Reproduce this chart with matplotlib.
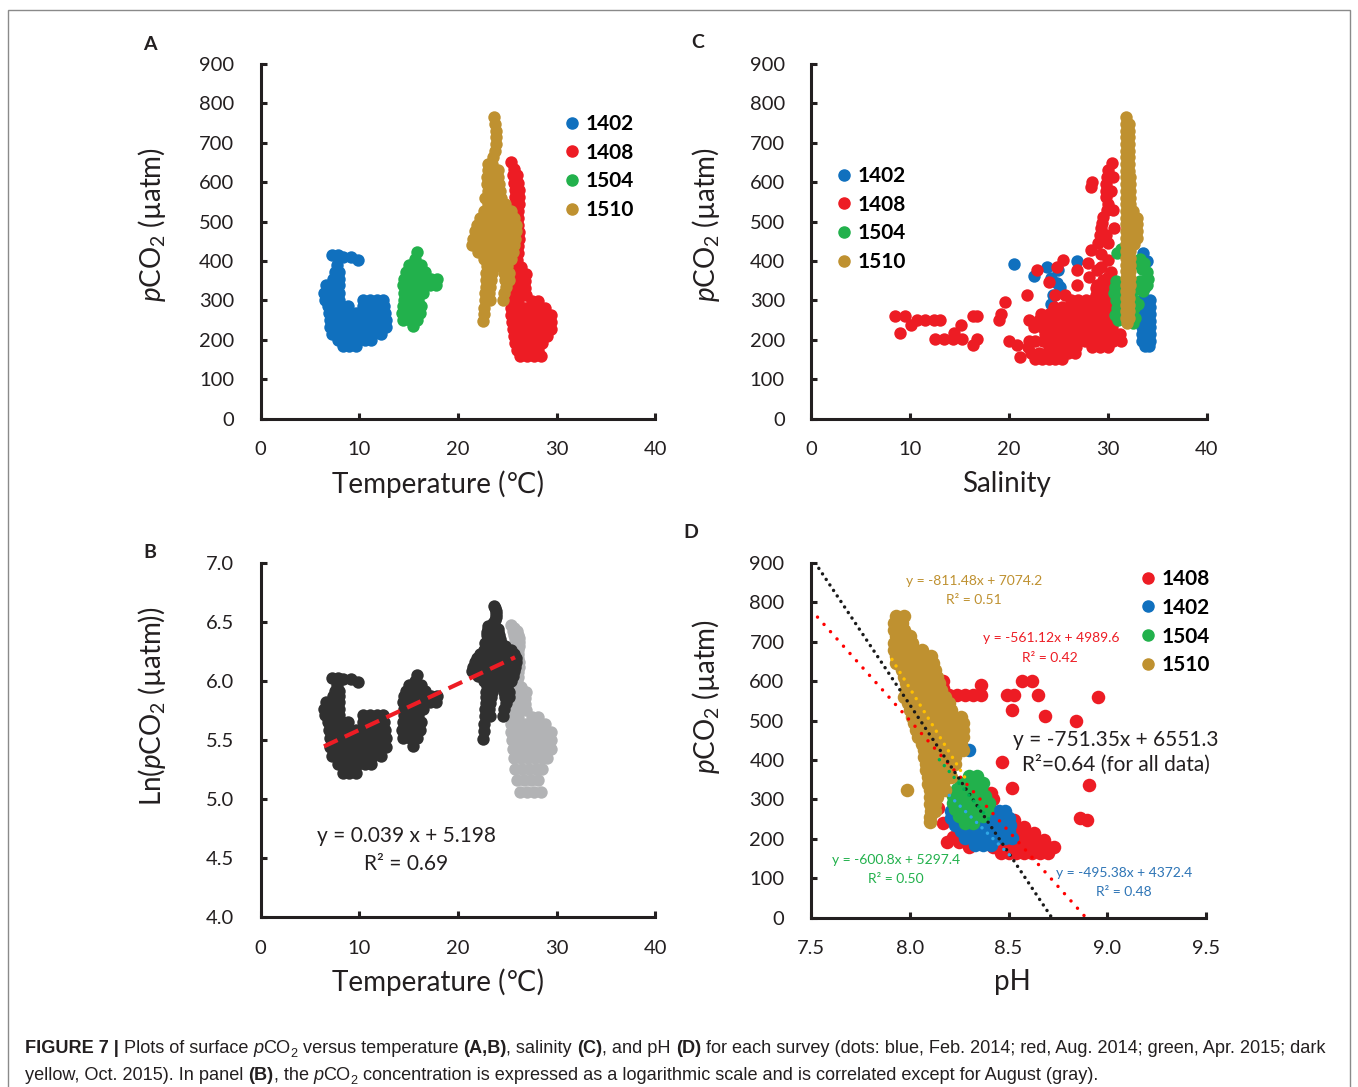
import matplotlib
matplotlib.use('Agg')
import matplotlib.pyplot as plt
import numpy as np
from matplotlib.lines import Line2D
from matplotlib.patches import Rectangle
from matplotlib import font_manager

plt.rcParams['font.family'] = ['Lato', 'DejaVu Sans']
plt.rcParams['mathtext.fontset'] = 'custom'
plt.rcParams['mathtext.rm'] = 'Lato'
plt.rcParams['mathtext.it'] = 'Lato:italic'
plt.rcParams['mathtext.bf'] = 'Lato:bold'

# ---- data: rows of (pCO2, [x values read at that level]) ----
surveys = ['1402', '1408', '1504', '1510']
colors = {'1402': '#1070be', '1408': '#ed1c24', '1504': '#22b14c', '1510': '#bf9130'}

# panel A: temperature vs pCO2
a_1402 = [(415, [7.2, 7.8]), (410, [8.3, 9.2]), (402, [9.9]), (390, [7.7]), (372, [7.5, 7.9]),
          (355, [7.3, 7.9]), (338, [6.6, 7.2, 7.9]), (320, [6.4, 7.0, 7.9]),
          (302, [6.5, 7.1, 7.9, 10.4, 11.1, 11.8, 12.4]),
          (285, [6.8, 7.5, 8.2, 8.9, 10.4, 11.1, 11.8, 12.5]),
          (268, [6.9, 7.6, 8.3, 9.0, 9.7, 10.4, 11.1, 11.8, 12.6]),
          (250, [7.0, 7.7, 8.4, 9.1, 9.8, 10.5, 11.2, 11.9, 12.7]),
          (232, [7.0, 7.7, 8.4, 9.1, 9.8, 10.5, 11.2, 12.0, 12.7]),
          (215, [7.2, 7.9, 8.6, 9.3, 10.0, 10.7, 11.4, 12.2]),
          (200, [7.8, 8.5, 9.2, 9.9, 10.6, 11.2]), (185, [8.3, 9.0, 9.7])]
a_1504 = [(424, [15.8]), (406, [15.6]), (390, [15.0, 15.7, 16.3]), (372, [14.7, 15.4, 16.1, 16.7]),
          (355, [14.5, 15.2, 15.9, 16.6, 17.3, 17.9]), (338, [14.4, 15.1, 15.8, 16.5, 17.2, 17.8]),
          (320, [14.5, 15.2, 15.9, 16.5]), (302, [14.5, 15.2, 15.9]), (285, [14.4, 15.1, 15.8, 16.3]),
          (268, [14.3, 15.0, 15.7, 16.2]), (250, [14.4, 15.1, 15.8]), (234, [15.4])]
a_1408 = [(650, [25.4]), (634, [25.7]), (617, [25.6, 26.0]), (598, [25.7, 26.1]), (580, [25.8, 26.2]),
          (562, [25.8, 26.2]), (545, [25.8, 26.2]), (528, [25.8, 26.1]), (510, [26.1]), (492, [26.1]),
          (474, [26.2]), (456, [26.2]), (438, [26.1]), (420, [26.1]), (402, [26.0]),
          (385, [25.8, 26.4]), (368, [25.7, 26.4, 26.9]), (350, [25.6, 26.3, 26.8]),
          (332, [25.5, 26.2, 26.8]), (315, [25.5, 26.2, 26.9]), (298, [25.4, 26.1, 27.5, 28.1]),
          (280, [25.4, 26.1, 26.8, 27.5, 28.2, 28.8]),
          (262, [25.4, 26.1, 26.8, 27.5, 28.2, 28.9, 29.4]),
          (245, [25.5, 26.2, 26.9, 27.6, 28.3, 29.0, 29.4]),
          (228, [25.6, 26.3, 27.0, 27.7, 28.4, 29.1, 29.4]),
          (210, [25.7, 26.4, 27.1, 27.8, 28.5, 29.0]), (192, [25.8, 26.5, 27.2, 27.9, 28.5]),
          (175, [26.0, 26.7, 27.4, 28.1]), (158, [26.3, 27.0, 27.7, 28.4])]
a_1510 = [(765, [23.6]), (748, [23.7]), (731, [23.8]), (714, [23.9]), (697, [23.9]), (680, [23.7]),
          (663, [23.5]), (647, [23.0, 23.4]), (630, [23.0, 23.6, 24.1]), (612, [22.9, 23.5, 24.1]),
          (595, [22.9, 23.5, 24.2]), (578, [23.0, 23.6, 24.3]), (560, [22.7, 23.3, 23.9, 24.4]),
          (545, [23.0, 23.6, 24.2, 24.8]), (528, [22.6, 23.3, 24.0, 24.7, 25.4]),
          (510, [22.2, 22.9, 23.6, 24.3, 25.0, 25.7]),
          (492, [21.9, 22.6, 23.3, 24.0, 24.7, 25.4, 25.9]),
          (475, [21.7, 22.4, 23.1, 23.8, 24.5, 25.2, 25.9]),
          (457, [21.5, 22.2, 22.9, 23.6, 24.3, 25.0, 25.8]),
          (440, [21.4, 22.1, 22.8, 23.5, 24.2, 24.9, 25.7]),
          (422, [22.0, 22.7, 23.4, 24.1, 24.8, 25.6]), (405, [22.6, 23.3, 24.0, 24.7, 25.4]),
          (388, [22.9, 23.6, 24.3, 25.0]), (370, [22.8, 23.4, 24.7, 25.2]),
          (352, [22.8, 23.3, 24.8, 25.2]), (335, [22.8, 23.2, 24.9]), (318, [22.7, 23.1, 24.7]),
          (300, [22.7, 23.2, 24.6]), (282, [22.6]), (265, [22.6]), (248, [22.5])]

# panel C: salinity vs pCO2
c_1402 = [(420, [33.6]), (400, [26.9, 34.0]), (392, [20.5]), (386, [23.8]), (376, [25.0]),
          (363, [22.5]), (356, [24.2]), (343, [24.9]), (335, [25.2, 33.8]), (314, [24.5]),
          (300, [33.5, 33.9, 34.3]), (290, [24.2]), (283, [33.5, 33.9, 34.3]),
          (266, [33.5, 33.9, 34.3]), (249, [33.5, 33.9, 34.3]), (232, [33.5, 33.9, 34.3]),
          (215, [33.5, 33.9, 34.3]), (198, [33.5, 33.9, 34.3]), (185, [33.8, 34.2])]
c_1408 = [(648, [30.4]), (630, [30.0]), (614, [29.9, 30.5]), (601, [28.4]), (595, [29.8]), (588, [28.3]),
          (578, [29.8, 30.3]), (563, [29.8]), (545, [30.0]), (529, [29.9, 30.5]), (512, [29.5]),
          (497, [29.4]), (483, [29.3, 30.6]), (465, [29.2, 29.8]), (445, [29.0, 30.0]), (428, [28.3]),
          (419, [29.3]), (402, [25.5, 30.0]), (394, [28.0]), (386, [24.9, 29.3]),
          (377, [22.8, 26.9, 28.9]), (373, [30.3]), (360, [28.1, 30.0]), (352, [29.5]), (347, [24.0]),
          (339, [26.9, 28.9]), (332, [28.8, 29.5, 30.2, 30.8]),
          (315, [21.8, 24.7, 25.7, 28.8, 29.5, 30.2, 30.8]), (297, [19.6]),
          (300, [26.3, 27.0, 27.8, 28.5, 29.2, 29.9]),
          (283, [24.6, 25.4, 26.1, 26.8, 27.5, 28.2, 28.9, 29.6, 30.3]),
          (266, [19.2, 23.2, 24.0, 24.8, 25.5, 26.2, 26.9, 27.6, 28.3, 29.0, 29.7, 30.4]),
          (260, [8.5, 9.5, 16.4, 16.8]),
          (250, [10.7, 11.5, 12.4, 13.0, 18.95, 22.0, 23.0, 23.8, 24.6, 25.3, 26.0, 26.7, 27.4,
                 28.1, 28.8, 29.5, 30.2, 30.8]),
          (238, [10.1, 15.1]),
          (232, [22.5, 23.3, 24.1, 24.8, 25.5, 26.2, 26.9, 27.6, 28.3, 29.0, 29.7, 30.4]),
          (217, [9.0, 14.4]),
          (215, [23.6, 24.4, 25.1, 25.8, 26.5, 27.2, 27.9, 28.6, 29.3, 30.0, 30.7, 31.2]),
          (202, [12.5, 13.4, 14.3, 15.2, 16.8]),
          (198, [20.0, 22.0, 22.6, 23.4, 24.2, 24.9, 25.6, 26.3, 27.0, 27.7, 28.4, 29.1, 29.8,
                 30.5, 31.3]),
          (188, [16.4, 20.8]), (182, [21.9, 24.0, 24.7, 25.4, 26.1, 26.8, 28.4, 29.2, 30.0]),
          (166, [22.2, 23.0, 23.8, 24.6, 25.3, 26.0, 26.7]), (157, [21.1]),
          (152, [22.6, 23.3, 24.0, 24.7, 25.4])]
c_1504 = [(430, [31.3]), (420, [30.9]), (405, [33.3]), (395, [32.7, 33.7]), (380, [33.5]), (372, [34.0]),
          (355, [34.1]), (350, [30.8, 33.3]), (340, [31.2, 34.0]), (335, [30.7]), (330, [32.9]),
          (325, [33.6]), (318, [30.6, 31.5]), (300, [30.8, 32.6]), (295, [31.2]), (290, [33.0]),
          (280, [30.9, 32.6]), (262, [30.7, 31.4]), (255, [32.7]), (250, [31.0]), (243, [32.5])]
c_1510 = [(765, [31.85]), (748, [31.8, 32.1]), (731, [31.8, 32.1]), (714, [31.8, 32.1]),
          (697, [31.8, 32.1]), (680, [31.8, 32.1]), (663, [31.8, 32.1]), (646, [31.8, 32.1]),
          (629, [31.8, 32.1]), (612, [31.8, 32.2]), (595, [31.8, 32.2]), (578, [31.8, 32.2]),
          (561, [31.8, 32.2]), (544, [31.8, 32.2]), (527, [31.8, 32.2, 32.5]),
          (510, [31.8, 32.2, 32.6, 32.9]), (493, [31.8, 32.2, 32.6, 32.9]),
          (476, [31.8, 32.2, 32.6, 32.9]), (459, [31.8, 32.2, 32.6, 32.9]),
          (442, [31.8, 32.2, 32.6]), (425, [31.8, 32.2]), (408, [31.8, 32.2]), (391, [31.8, 32.2]),
          (374, [31.8, 32.2]), (357, [31.8, 32.2]), (340, [31.8, 32.2]), (323, [31.85, 32.15]),
          (306, [31.85, 32.15]), (289, [31.85, 32.15]), (272, [31.85, 32.15]), (255, [31.85, 32.1]),
          (242, [31.9])]

# panel D: pH vs pCO2
d_1408 = [(630, [8.04]), (612, [8.05]), (600, [8.17, 8.57, 8.62]), (591, [8.36]), (582, [8.17]),
          (566, [8.16, 8.20, 8.24, 8.28, 8.32, 8.36, 8.49, 8.53, 8.65]), (561, [8.955]),
          (526, [8.52]), (511, [8.685]), (500, [8.84]), (394, [8.466]), (354, [8.14]), (336, [8.91]),
          (333, [8.15]), (329, [8.52]), (316, [8.41]), (315, [8.13]), (300, [8.42]), (282, [8.40]),
          (278, [8.145]), (265, [8.44, 8.48]), (254, [8.86]), (248, [8.45, 8.49, 8.53, 8.895]),
          (240, [8.17]), (231, [8.46, 8.50, 8.54, 8.58]), (214, [8.47, 8.51, 8.55, 8.59, 8.63]),
          (206, [8.22, 8.24]), (197, [8.44, 8.48, 8.52, 8.56, 8.60, 8.64, 8.68]),
          (193, [8.19, 8.25, 8.36]),
          (180, [8.30, 8.42, 8.46, 8.50, 8.54, 8.58, 8.62, 8.66, 8.70, 8.73]),
          (165, [8.46, 8.50, 8.54, 8.58, 8.62, 8.66, 8.70])]
d_1402 = [(426, [8.30]), (270, [8.21, 8.45, 8.48]), (253, [8.21, 8.25, 8.42, 8.46, 8.50]),
          (236, [8.23, 8.27, 8.31, 8.35, 8.39, 8.43, 8.47, 8.51]),
          (219, [8.26, 8.30, 8.34, 8.38, 8.42, 8.46, 8.50]),
          (202, [8.28, 8.32, 8.36, 8.40, 8.44, 8.48, 8.52]), (185, [8.33, 8.37, 8.41])]
d_1504 = [(360, [8.30, 8.34]), (343, [8.26, 8.30, 8.34, 8.37]), (326, [8.24, 8.28, 8.32, 8.36]),
          (309, [8.22, 8.26, 8.30, 8.34, 8.38]), (292, [8.22, 8.26, 8.30, 8.34, 8.38, 8.40]),
          (275, [8.23, 8.27, 8.31, 8.35, 8.39]), (258, [8.25, 8.29, 8.33, 8.37]), (241, [8.28, 8.32])]
d_1510 = [(765, [7.93, 7.97]), (748, [7.92, 7.96]), (731, [7.92, 7.97]), (714, [7.93, 7.98, 8.00]),
          (697, [7.92, 7.97, 8.01]), (680, [7.92, 7.96, 8.02, 8.06]),
          (663, [7.93, 7.97, 8.03, 8.07, 8.11]), (646, [7.93, 7.97, 8.02, 8.07, 8.12]),
          (629, [7.96, 8.01, 8.06, 8.10, 8.13]), (612, [7.97, 8.02, 8.06, 8.10, 8.14]),
          (595, [7.98, 8.03, 8.07, 8.11, 8.15]), (578, [7.98, 8.03, 8.07, 8.11, 8.16]),
          (561, [7.97, 8.02, 8.06, 8.10, 8.15, 8.18]), (544, [7.99, 8.04, 8.08, 8.12, 8.16, 8.20]),
          (527, [8.00, 8.05, 8.09, 8.13, 8.17, 8.21]),
          (510, [8.01, 8.05, 8.10, 8.14, 8.18, 8.22, 8.26]),
          (493, [8.02, 8.06, 8.11, 8.15, 8.19, 8.23, 8.27]),
          (476, [8.03, 8.07, 8.11, 8.15, 8.19, 8.23, 8.27]),
          (459, [8.04, 8.08, 8.12, 8.16, 8.20, 8.24, 8.27]),
          (442, [8.06, 8.10, 8.14, 8.18, 8.22, 8.26]), (425, [8.07, 8.11, 8.15, 8.19, 8.23, 8.27]),
          (408, [8.07, 8.11, 8.15, 8.19, 8.23]), (391, [8.08, 8.12, 8.16, 8.20, 8.23]),
          (374, [8.08, 8.12, 8.16, 8.20]), (357, [8.09, 8.13, 8.17, 8.21]), (340, [8.09, 8.13, 8.17]),
          (323, [8.10, 8.14, 8.18]), (324, [7.985]), (306, [8.10, 8.14]), (289, [8.10, 8.13]),
          (272, [8.11, 8.13]), (255, [8.10]), (244, [8.10])]

# fits
b_fit = (0.039, 5.198)
b_fit_range = (6.42, 25.78)
d_fit_names = ['1510', '1408', 'all', '1504', '1402']
d_fit_slopes = [-811.48, -561.12, -751.35, -600.8, -495.38]
d_fit_intercepts = [7074.2, 4989.6, 6551.3, 5297.4, 4372.4]
d_fit_ranges = [(7.91, 8.29), (7.5, 8.892), (7.521, 8.719), (8.15, 8.41), (8.20, 8.53)]
d_fit_colors = ['#ffc000', '#ff0000', '#1a1a1a', '#00b050', '#2fa7e6']
d_fit_gaps = [2.2, 2.8, 1.9, 2.2, 2.2]


def unroll(rows):
    xs, ys = [], []
    for y, xl in rows:
        xs += xl
        ys += [y] * len(xl)
    return np.array(xs, dtype=float), np.array(ys, dtype=float)


W, H = 1358, 1087
fig = plt.figure(figsize=(W / 100, H / 100), dpi=100)


def box(l, r, t, b):
    return [l / W, 1 - b / H, (r - l) / W, (b - t) / H]


def P(x, y):
    return x / W, 1 - y / H


ink = '#231f20'


def style(ax):
    for s in ['top', 'right']:
        ax.spines[s].set_visible(False)
    for s in ['left', 'bottom']:
        ax.spines[s].set_linewidth(2.2)
        ax.spines[s].set_color(ink)
    ax.tick_params(direction='in', length=4.5, width=2.2, colors=ink, labelsize=14.5)
    ax.tick_params(axis='y', pad=19)
    ax.tick_params(axis='x', pad=16)


axA = fig.add_axes(box(260.6, 655.4, 63.9, 418.7))
axC = fig.add_axes(box(811.3, 1206.7, 63.9, 418.7))
axB = fig.add_axes(box(260.6, 655.4, 563.3, 917.3))
axD = fig.add_axes(box(811, 1206, 563, 917.7))

A = {'1402': a_1402, '1408': a_1408, '1504': a_1504, '1510': a_1510}
C = {'1402': c_1402, '1408': c_1408, '1504': c_1504, '1510': c_1510}
D = {'1402': d_1402, '1408': d_1408, '1504': d_1504, '1510': d_1510}

ms = 80
for k in surveys:
    x, y = unroll(A[k])
    axA.scatter(x, y, s=ms, color=colors[k], linewidths=0)
    x, y = unroll(C[k])
    axC.scatter(x, y, s=ms, color=colors[k], linewidths=0)

# B: log of A, August in gray
x, y = unroll(a_1408)
axB.scatter(x, np.log(y), s=ms, color='#b2b3b5', linewidths=0)
for k in ['1402', '1504', '1510']:
    x, y = unroll(A[k])
    axB.scatter(x, np.log(y), s=ms, color='#303030', linewidths=0)
bx = np.array(b_fit_range)
axB.plot(bx, b_fit[0] * bx + b_fit[1], color='#ed1c24', lw=3, ls=(0, (3.6, 1.9)))

d_order = ['1408', '1402', '1504', '1510']
for k in d_order:
    x, y = unroll(D[k])
    axD.scatter(x, y, s=95, color=colors[k], linewidths=0)
for i in range(len(d_fit_names)):
    xr = np.array(d_fit_ranges[i])
    axD.plot(xr, d_fit_slopes[i] * xr + d_fit_intercepts[i], color=d_fit_colors[i], lw=2.5,
             ls=(0, (0.01, d_fit_gaps[i])), dash_capstyle='round', clip_on=True)

for ax in [axA, axC, axD]:
    style(ax)
    ax.set_ylim(0, 900)
    ax.set_yticks(np.arange(0, 901, 100))
style(axB)
for ax in [axA, axB]:
    ax.set_xlim(0, 40)
    ax.set_xticks([0, 10, 20, 30, 40])
axC.set_xlim(0, 40)
axC.set_xticks([0, 10, 20, 30, 40])
axB.set_ylim(4.0, 7.0)
axB.set_yticks(np.arange(4.0, 7.01, 0.5))
axB.yaxis.set_major_formatter(matplotlib.ticker.FormatStrFormatter('%.1f'))
axD.set_xlim(7.5, 9.5)
axD.set_xticks([7.5, 8.0, 8.5, 9.0, 9.5])
axD.xaxis.set_major_formatter(matplotlib.ticker.FormatStrFormatter('%.1f'))

# legends
leg_font = {'family': 'Lato', 'weight': 'bold', 'size': 15}


def add_legend(ax, order, anchor):
    hs = [Line2D([], [], marker='o', ls='', color=colors[k], markersize=8) for k in order]
    ax.legend(hs, order, loc='upper left', bbox_to_anchor=anchor, frameon=False, prop=leg_font,
              handlelength=0.7, handletextpad=0.3, labelspacing=0.42, borderpad=0, borderaxespad=0)


add_legend(axA, surveys, (0.771, 0.859))
add_legend(axC, surveys, (0.065, 0.7125))
add_legend(axD, d_order, (0.835, 0.983))

# axis labels
lab = {'size': 20, 'color': ink, 'ha': 'center', 'va': 'center'}
fig.text(*P(437.5, 484), 'Temperature (℃)', **lab)
fig.text(*P(1006.5, 484), 'Salinity', **lab)
fig.text(*P(437.5, 982), 'Temperature (℃)', **lab)
fig.text(*P(1012, 982), 'pH', **lab)
fig.text(*P(152, 225), r'$p$CO$_2$ (µatm)', rotation=90, **lab)
fig.text(*P(706, 225), r'$p$CO$_2$ (µatm)', rotation=90, **lab)
fig.text(*P(152, 706), r'Ln($p$CO$_2$ (µatm))', rotation=90, **lab)
fig.text(*P(706, 697), r'$p$CO$_2$ (µatm)', rotation=90, **lab)

# panel letters
for t, (x, y) in zip('ABCD', [(150, 44), (150, 553), (698, 42), (691, 533)]):
    fig.text(*P(x, y), t, size=14, weight='bold', color=ink, ha='center', va='center')

# fit annotations
ann = [('y = 0.039 x + 5.198', 406, 836, ink, 15), ('R² = 0.69', 406, 864, ink, 15),
       ('y = -811.48x + 7074.2', 974, 581, '#bf9130', 10), ('R² = 0.51', 974, 600, '#bf9130', 10),
       ('y = -561.12x + 4989.6', 1051, 638, '#ed1c24', 10), ('R² = 0.42', 1050, 658, '#ed1c24', 10),
       ('y = -751.35x + 6551.3', 1116, 740, ink, 15), ('R²=0.64 (for all data)', 1116, 765, ink, 15),
       ('y = -600.8x + 5297.4', 896, 860, '#22b14c', 10), ('R² = 0.50', 896, 879, '#22b14c', 10),
       ('y = -495.38x + 4372.4', 1124, 873, '#2e75b6', 10), ('R² = 0.48', 1124, 892, '#2e75b6', 10)]
for t, x, y, c, s in ann:
    fig.text(*P(x, y), t, color=c, size=s, ha='center', va='center')

# frame
fig.add_artist(Rectangle((8 / W, -0.01), (1350 - 8) / W, 1.01 - 10 / H, transform=fig.transFigure,
                         fill=False, ec='#8a8a8a', lw=1))

# caption with mixed styles
names = [f.name for f in font_manager.fontManager.ttflist]
cap_family = 'Liberation Sans Narrow' if 'Liberation Sans Narrow' in names else 'Liberation Sans'
renderer = fig.canvas.get_renderer()

line1 = [('FIGURE 7 | ', 'bold', 'normal'), ('Plots of surface ', 'normal', 'normal'),
         ('p', 'normal', 'italic'), ('CO', 'normal', 'normal'), ('2', 'sub', 'normal'),
         (' versus temperature ', 'normal', 'normal'), ('(A,B)', 'bold', 'normal'),
         (', salinity ', 'normal', 'normal'), ('(C)', 'bold', 'normal'),
         (', and pH ', 'normal', 'normal'), ('(D)', 'bold', 'normal'),
         (' for each survey (dots: blue, Feb. 2014; red, Aug. 2014; green, Apr. 2015; dark',
          'normal', 'normal')]
line2 = [('yellow, Oct. 2015). In panel ', 'normal', 'normal'), ('(B)', 'bold', 'normal'),
         (', the ', 'normal', 'normal'), ('p', 'normal', 'italic'), ('CO', 'normal', 'normal'),
         ('2', 'sub', 'normal'),
         (' concentration is expressed as a logarithmic scale and is correlated except for August (gray).',
          'normal', 'normal')]


def seg_width(txt, size, weight, style):
    t = fig.text(0, 0, txt + '|', size=size, weight=weight, style=style, family=cap_family)
    t2 = fig.text(0, 0, '|', size=size, weight=weight, style=style, family=cap_family)
    w = t.get_window_extent(renderer).width - t2.get_window_extent(renderer).width
    t.remove()
    t2.remove()
    return w


def draw_line(parts, x0, y0, size, draw=True):
    x = x0
    for txt, w, st in parts:
        s = size * 0.7 if w == 'sub' else size
        wt = 'normal' if w == 'sub' else w
        dy = 4 if w == 'sub' else 0
        if draw:
            fig.text(*P(x, y0 + dy), txt, size=s, weight=wt, style=st, family=cap_family,
                     color=ink, ha='left', va='baseline')
        x += seg_width(txt, s, wt, st)
    return x - x0


cap_size = 12
total = draw_line(line1, 25, 0, cap_size, draw=False)
cap_size = cap_size * (1334 - 25) / total
draw_line(line1, 25, 1053, cap_size)
draw_line(line2, 25, 1080, cap_size)

fig.savefig('out.png', dpi=100)
